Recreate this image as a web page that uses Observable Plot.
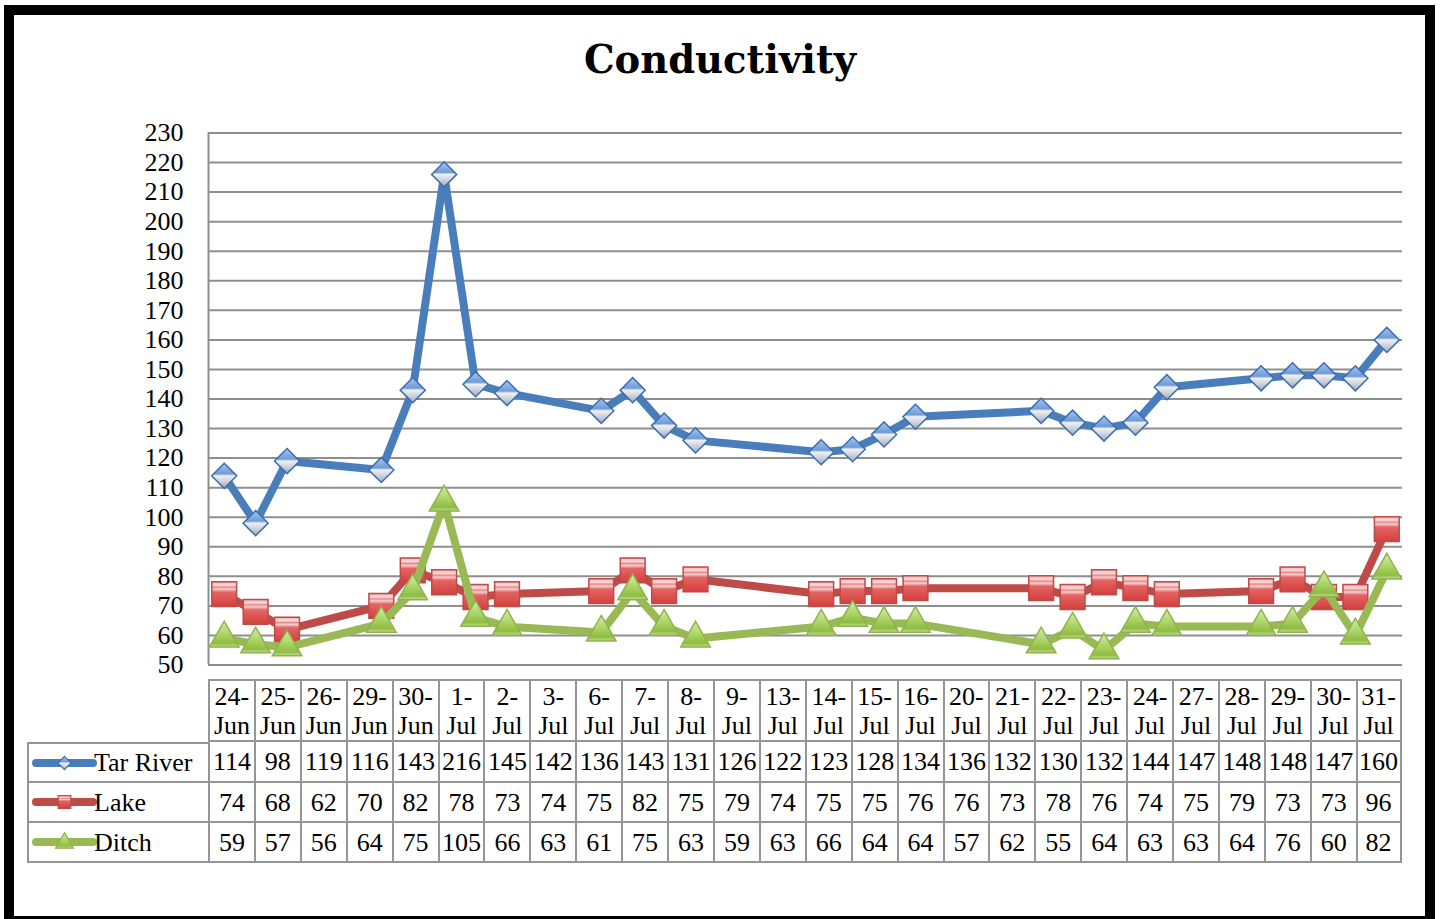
<!DOCTYPE html>
<html>
<head>
<meta charset="utf-8">
<script src="https://cdn.jsdelivr.net/npm/d3@7"></script>
<script src="https://cdn.jsdelivr.net/npm/@observablehq/plot@0.6"></script>
<style>
  html, body { margin: 0; padding: 0; background: #fff; width: 1440px; height: 919px; overflow: hidden; }
  body { position: relative; font-family: "Liberation Serif", serif; color: #000; }
  #frame { position: absolute; left: 4px; top: 5px; width: 1431px; height: 921px; border: 10px solid #000; box-sizing: border-box; z-index: 5; pointer-events: none; }
  #title { position: absolute; left: 0; width: 1440px; top: 41px; text-align: center; font-family: "DejaVu Serif", serif; font-weight: bold; font-size: 38.5px; line-height: 1; z-index: 3; }
  #chart { position: absolute; left: 0; top: 0; }
  #table { position: absolute; left: 27px; top: 679px; display: grid; grid-template-columns: 181px repeat(26, 45.92px); grid-template-rows: 63px 41px 40px 40px; font-size: 26px; }
  #table div.c { box-sizing: border-box; display: flex; align-items: center; justify-content: center; text-align: center; white-space: nowrap; line-height: 29px; }
  #table div.lab { justify-content: flex-start; }
</style>
</head>
<body>
<svg width="0" height="0" style="position:absolute">
  <defs>
    <linearGradient id="gBlue" x1="0" y1="0" x2="0" y2="1">
      <stop offset="0%" stop-color="#a9c6ef"/>
      <stop offset="42%" stop-color="#6e9bd7"/>
      <stop offset="50%" stop-color="#eef0f3"/>
      <stop offset="75%" stop-color="#c9ced8"/>
      <stop offset="100%" stop-color="#93a9c9"/>
    </linearGradient>
    <linearGradient id="gRed" x1="0" y1="0" x2="0" y2="1">
      <stop offset="0%" stop-color="#f6aaa8"/>
      <stop offset="14%" stop-color="#f3dede"/>
      <stop offset="22%" stop-color="#ea8a88"/>
      <stop offset="30%" stop-color="#f4cfce"/>
      <stop offset="42%" stop-color="#e36563"/>
      <stop offset="100%" stop-color="#d43f3d"/>
    </linearGradient>
    <linearGradient id="gGreen" x1="0" y1="0" x2="0" y2="1">
      <stop offset="0%" stop-color="#d4edac"/>
      <stop offset="55%" stop-color="#a8d160"/>
      <stop offset="85%" stop-color="#8fbc43"/>
      <stop offset="100%" stop-color="#c3de95"/>
    </linearGradient>
  </defs>
</svg>
<div id="chart"></div>
<div id="title">Conductivity</div>
<div id="table"></div>
<div id="frame"></div>
<script>
// ---- data ----
const dates = ["24-Jun","25-Jun","26-Jun","29-Jun","30-Jun","1-Jul","2-Jul","3-Jul","6-Jul","7-Jul","8-Jul","9-Jul","13-Jul","14-Jul","15-Jul","16-Jul","20-Jul","21-Jul","22-Jul","23-Jul","24-Jul","27-Jul","28-Jul","29-Jul","30-Jul","31-Jul"];
const seriesNames = ["Tar River", "Lake", "Ditch"];
const tarRiver = [114,98,119,116,143,216,145,142,136,143,131,126,122,123,128,134,136,132,130,132,144,147,148,148,147,160];
const lake = [74,68,62,70,82,78,73,74,75,82,75,79,74,75,75,76,76,73,78,76,74,75,79,73,73,96];
const ditch = [59,57,56,64,75,105,66,63,61,75,63,59,63,66,64,64,57,62,55,64,63,63,64,76,60,82];
const yTicks = [50,60,70,80,90,100,110,120,130,140,150,160,170,180,190,200,210,220,230];

// ---- styles ----
const values = [tarRiver, lake, ditch];
const lineColors = ["#4a7ebb", "#be4b48", "#98b954"];
const markStroke = ["#3b6eb0", "#be4b48", "#8fb34c"];
const markFill = ["url(#gBlue)", "url(#gRed)", "url(#gGreen)"];
const symbols = ["diamond2", "square", "triangle"];
const radii = [11.3, 14, 11];
const d3Symbols = [d3.symbolDiamond2, d3.symbolSquare, d3.symbolTriangle];

const parse = d3.utcParse("%d-%b");
const series = seriesNames.map((name, k) => dates.map((d, i) => ({series: name, date: parse(d), value: values[k][i]})));
const x0 = d3.utcHour.offset(parse(dates[0]), -12);
const x1 = d3.utcHour.offset(parse(dates[dates.length - 1]), 12);

const marks = [
  Plot.ruleY(yTicks, {stroke: "#8e8e8e", strokeWidth: 2}),
  Plot.ruleX([x0], {stroke: "#8e8e8e", strokeWidth: 2})
];
series.forEach((data, k) => {
  marks.push(Plot.line(data, {x: "date", y: "value", stroke: lineColors[k], strokeWidth: 8, strokeLinejoin: "round"}));
  marks.push(Plot.dot(data, {x: "date", y: "value", symbol: () => symbols[k], r: radii[k], fill: markFill[k], stroke: markStroke[k], strokeWidth: 1.5}));
});

const chart = Plot.plot({
  width: 1440,
  height: 680,
  marginLeft: 208,
  marginRight: 38,
  marginTop: 132.5,
  marginBottom: 15.5,
  x: {type: "utc", domain: [x0, x1], axis: null},
  y: {domain: [50, 230], ticks: yTicks, tickSize: 0, tickPadding: 25, label: null},
  style: {fontFamily: "Liberation Serif", fontSize: "26px", color: "#000", background: "transparent", overflow: "visible"},
  marks
});
document.getElementById("chart").appendChild(chart);

// ---- data table ----
const table = document.getElementById("table");
const B = "2px solid #959595";
function cell(html, styles, cls) {
  const el = document.createElement("div");
  el.className = "c" + (cls ? " " + cls : "");
  el.innerHTML = html;
  Object.assign(el.style, styles);
  table.appendChild(el);
  return el;
}
cell("", {});
dates.forEach((d, i) => {
  const [day, mon] = d.split("-");
  cell(day + "-<br>" + mon, {borderTop: B, borderLeft: B, borderBottom: B, borderRight: i === dates.length - 1 ? B : "none"});
});
seriesNames.forEach((name, k) => {
  const lab = cell("", {borderLeft: B, borderBottom: B, borderTop: k === 0 ? B : "none"}, "lab");
  const svg = d3.create("svg").attr("width", 64).attr("height", 22).style("margin-left", "3px").style("flex", "none").style("overflow", "visible");
  svg.append("line").attr("x1", 4).attr("x2", 61).attr("y1", 11).attr("y2", 11)
    .attr("stroke", lineColors[k]).attr("stroke-width", 8).attr("stroke-linecap", "round");
  const sz = k === 0 ? 110 : k === 1 ? 160 : 140;
  svg.append("path").attr("d", d3.symbol(d3Symbols[k], sz)()).attr("transform", `translate(32.5,${k === 2 ? 12 : 11})`)
    .attr("fill", markFill[k]).attr("stroke", markStroke[k]).attr("stroke-width", 1.2);
  lab.appendChild(svg.node());
  const sp = document.createElement("span");
  sp.textContent = name;
  sp.style.marginLeft = "-2px";
  lab.appendChild(sp);
  values[k].forEach((v, i) => {
    cell(String(v), {borderLeft: B, borderBottom: B, borderRight: i === dates.length - 1 ? B : "none"});
  });
});
</script>
</body>
</html>
